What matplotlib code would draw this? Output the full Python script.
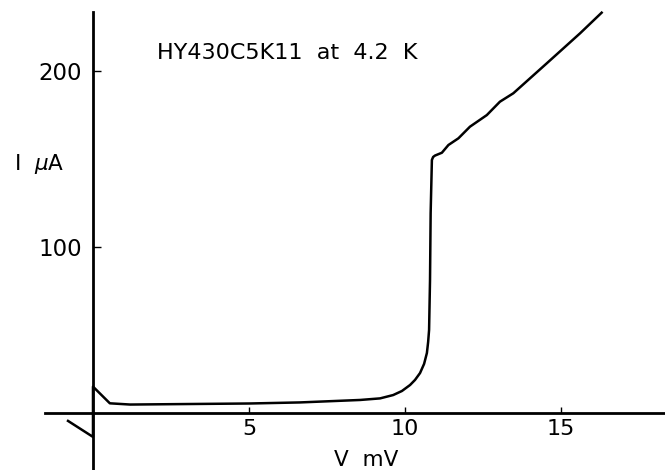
import numpy as np
import matplotlib
matplotlib.use('Agg')
import matplotlib.pyplot as plt

# I-V trace (V in mV, I in uA)
volts = [-0.80, 0.0, 0.0, 0.54, 1.19, 3.11, 5.03, 6.63, 8.56, 9.20, 9.62,
         9.90, 10.16, 10.32, 10.48, 10.61, 10.70, 10.74, 10.77, 10.80, 10.82,
         10.86, 10.90, 10.96, 11.18, 11.39, 11.71, 12.08, 12.62, 13.04, 13.47,
         14.54, 15.61, 16.30]
current = [1.0, -8.1, 20.5, 11.0, 10.3, 10.6, 10.9, 11.5, 12.9, 13.8, 15.7,
           18.0, 21.4, 24.3, 28.2, 33.4, 39.6, 45.9, 52.7, 81.1, 119.1,
           149.3, 151.0, 151.8, 153.4, 157.8, 161.6, 168.2, 174.8, 182.4, 187.2,
           204.2, 221.3, 233.0]

xticks = [5, 10, 15]
yticks = [100, 200]
title = 'HY430C5K11  at  4.2  K'

fig = plt.figure(figsize=(6.65, 4.7), dpi=100)
ax = fig.add_axes([0, 0, 1, 1])
ax.plot(volts, current, color='black', lw=1.8, solid_joinstyle='round')

ax.set_xlim(-2.98, 18.33)
ax.set_ylim(-26.9, 240.2)

# axes crossing near origin, like the hand-drawn original
for side in ['top', 'right']:
    ax.spines[side].set_visible(False)
ax.spines['left'].set_position(('data', 0))
ax.spines['bottom'].set_position(('data', 5.5))
ax.spines['left'].set_bounds(-26.9, 233.4)
ax.spines['bottom'].set_bounds(-1.55, 18.33)
ax.spines['left'].set_linewidth(2.0)
ax.spines['bottom'].set_linewidth(2.0)

ax.set_xticks(xticks)
ax.set_yticks(yticks)
ax.tick_params(axis='x', direction='in', length=4, width=1, pad=4, labelsize=16)
ax.tick_params(axis='y', direction='in', length=6, width=1, pad=8, labelsize=16.5)

ax.text(0.021, 0.651, 'I  $\\mu$A', transform=ax.transAxes, fontsize=15.5,
        ha='left', va='center')
ax.text(0.551, 0.021, 'V  mV', transform=ax.transAxes, fontsize=15.5,
        ha='center', va='center')
ax.text(0.432, 0.887, title, transform=ax.transAxes, fontsize=16,
        ha='center', va='center')

fig.savefig('out.png', dpi=100)
